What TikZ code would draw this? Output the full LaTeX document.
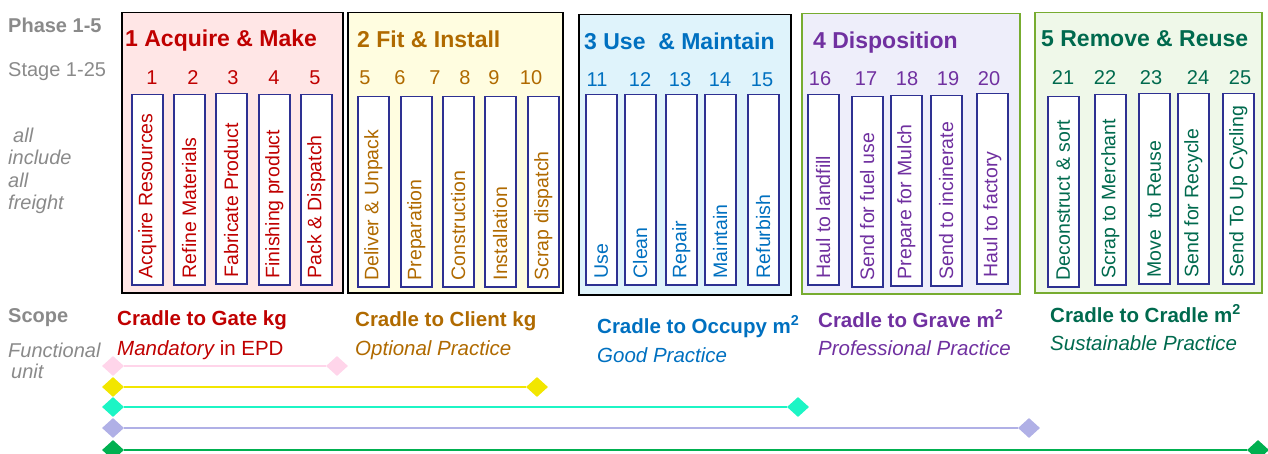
\documentclass[tikz,border=0pt]{standalone}
\usepackage{fontspec}
\setmainfont{Liberation Sans}
\usetikzlibrary{shapes.geometric}

\definecolor{makered}{HTML}{C00000}
\definecolor{fitbrown}{HTML}{B06A00}
\definecolor{useblue}{HTML}{0070C0}
\definecolor{disppurple}{HTML}{7030A0}
\definecolor{reusegreen}{HTML}{006A4E}
\definecolor{sidegray}{HTML}{8A8A8A}
\definecolor{stagenavy}{HTML}{2E3192}
\definecolor{phaseolive}{HTML}{77AC30}
\definecolor{makebg}{HTML}{FFE6E6}
\definecolor{fitbg}{HTML}{FFFDE0}
\definecolor{usebg}{HTML}{DFF3FB}
\definecolor{dispbg}{HTML}{EEEEFA}
\definecolor{reusebg}{HTML}{EFF8E9}
\definecolor{gatepink}{HTML}{FFD5EA}
\definecolor{clientyellow}{HTML}{F2E600}
\definecolor{occupycyan}{HTML}{1CF5C5}
\definecolor{gravelav}{HTML}{B0B0E6}
\definecolor{cradlegreen}{HTML}{00B050}

\begin{document}
\begin{tikzpicture}[x=1pt, y=-1pt,
    phase/.style = {draw, rectangle, line width=1.5pt, anchor=north west, inner sep=0pt, minimum height=280pt},
    stagebox/.style = {draw=stagenavy, fill=white, rectangle, line width=1.5pt, anchor=north west, inner sep=0pt, minimum width=31pt, minimum height=190pt},
    stagetext/.style = {rotate=90, anchor=west, inner sep=0pt, font=\fontsize{19.5}{22}\selectfont},
    title/.style = {anchor=base west, inner sep=0pt, font=\fontsize{23}{27}\selectfont\bfseries},
    num/.style = {anchor=base, inner sep=0pt, font=\fontsize{20}{24}\selectfont},
    side/.style = {anchor=base west, inner sep=0pt, text=sidegray, font=\fontsize{20}{24}\selectfont},
    scope/.style = {anchor=base west, inner sep=0pt, font=\fontsize{20.5}{24}\selectfont\bfseries},
    practice/.style = {anchor=base west, inner sep=0pt, font=\fontsize{20.5}{24}\selectfont\itshape},
    ends/.style = {diamond, inner sep=0pt, minimum width=22pt, minimum height=20pt}]

    \useasboundingbox (0,0) rectangle (1268,454);

    \node[phase, fill=makebg, minimum width=221pt] (p1) at (121,12) {};
    \node[phase, fill=fitbg, minimum width=215pt] (p2) at (347,12) {};
    \node[phase, fill=usebg, minimum width=212pt] (p3) at (578,14) {};
    \node[phase, fill=dispbg, draw=phaseolive, minimum width=218pt] (p4) at (801,13) {};
    \node[phase, fill=reusebg, draw=phaseolive, minimum width=227pt] (p5) at (1034,12) {};

    \node[title, text=makered] (t1) at (125,47) {1 Acquire \& Make};
    \node[title, text=fitbrown] (t2) at (357,48) {2 Fit \& Install};
    \node[title, text=useblue] (t3) at (584,50) {3 Use\ \ \& Maintain};
    \node[title, text=disppurple] (t4) at (813,49) {4 Disposition};
    \node[title, text=reusegreen] (t5) at (1041,47) {5 Remove \& Reuse};

    \foreach \x/\y/\c/\s [count=\i] in {
        131/94/makered/Acquire Resources, 173/94/makered/Refine Materials, 215/93/makered/Fabricate Product,
        258/94/makered/Finishing product, 300/94/makered/Pack \& Dispatch,
        357/96/fitbrown/Deliver \& Unpack, 400/96/fitbrown/Preparation, 442/96/fitbrown/Construction,
        484/96/fitbrown/Installation, 527/96/fitbrown/Scrap dispatch,
        585/94/useblue/Use, 624/94/useblue/Clean, 665/94/useblue/Repair, 704/94/useblue/Maintain, 747/94/useblue/Refurbish,
        807/94/disppurple/Haul to landfill, 851/96/disppurple/Send for fuel use, 890/95/disppurple/Prepare for Mulch,
        930/95/disppurple/Send to incinerate, 976/93/disppurple/Haul to factory,
        1047/96/reusegreen/Deconstruct \& sort, 1094/94/reusegreen/Scrap to Merchant, 1138/93/reusegreen/Move\ \ to Reuse,
        1177/93/reusegreen/Send for Recycle, 1222/93/reusegreen/Send To Up Cycling} {
        \node[stagebox] (st\i) at (\x,\y) {};
        \node[stagetext, text=\c] (sl\i) at ([yshift=7pt]st\i.south) {\s};
    }

    \foreach \x/\n/\c [count=\i] in {
        152/1/makered, 193/2/makered, 233/3/makered, 274/4/makered, 315/5/makered,
        365/5/fitbrown, 400/6/fitbrown, 435/7/fitbrown, 465/8/fitbrown, 494/9/fitbrown, 531/10/fitbrown} {
        \node[num, text=\c] (num\i) at (\x,85) {\n};
    }
    \foreach \x/\y/\n/\c [count=\i] in {
        597/87/11/useblue, 640/87/12/useblue, 680/87/13/useblue, 720/87/14/useblue, 762/87/15/useblue,
        820/86/16/disppurple, 866/86/17/disppurple, 907/86/18/disppurple, 948/86/19/disppurple, 989/86/20/disppurple,
        1063/85/21/reusegreen, 1105/85/22/reusegreen, 1151/85/23/reusegreen, 1198/85/24/reusegreen, 1240/85/25/reusegreen} {
        \node[num, text=\c] (numb\i) at (\x,\y) {\n};
    }

    \node[side, font=\fontsize{20}{24}\selectfont\bfseries] (phase) at (8,33) {Phase 1-5};
    \node[side] (stage) at (8,77) {Stage 1-25};
    \foreach \x/\y/\w [count=\i] in {13/143/all, 8/165/include, 8/188/all, 8/210/freight}
        \node[side, font=\fontsize{20}{24}\selectfont\itshape] (fr\i) at (\x,\y) {\w};
    \node[side, font=\fontsize{20}{24}\selectfont\bfseries] (scope) at (8,322) {Scope};
    \node[side, font=\fontsize{20}{24}\selectfont\itshape] (func) at (8,357) {Functional};
    \node[side, font=\fontsize{20}{24}\selectfont\itshape] (unit) at (11,378) {unit};

    \node[scope, text=makered] (c1) at (117,325) {Cradle to Gate kg};
    \node[practice, text=makered] (m1) at (117,355) {Mandatory {\upshape in EPD}};
    \node[scope, text=fitbrown] (c2) at (355,326) {Cradle to Client kg};
    \node[practice, text=fitbrown] (m2) at (355,355) {Optional Practice};
    \node[scope, text=useblue] (c3) at (597,333) {Cradle to Occupy m\textsuperscript{2}};
    \node[practice, text=useblue] (m3) at (597,362) {Good Practice};
    \node[scope, text=disppurple] (c4) at (818,327) {Cradle to Grave m\textsuperscript{2}};
    \node[practice, text=disppurple] (m4) at (818,355) {Professional Practice};
    \node[scope, text=reusegreen] (c5) at (1050,322) {Cradle to Cradle m\textsuperscript{2}};
    \node[practice, text=reusegreen] (m5) at (1050,350) {Sustainable Practice};

    \foreach \c/\y/\e [count=\i] in {gatepink/366/337, clientyellow/387/537, occupycyan/407/798,
        gravelav/428/1029, cradlegreen/450/1258} {
        \node[ends, fill=\c] (l\i) at (113,\y) {};
        \node[ends, fill=\c] (r\i) at (\e,\y) {};
        \draw[\c, line width=2.2pt] (l\i) -- (r\i);
    }
\end{tikzpicture}
\end{document}
